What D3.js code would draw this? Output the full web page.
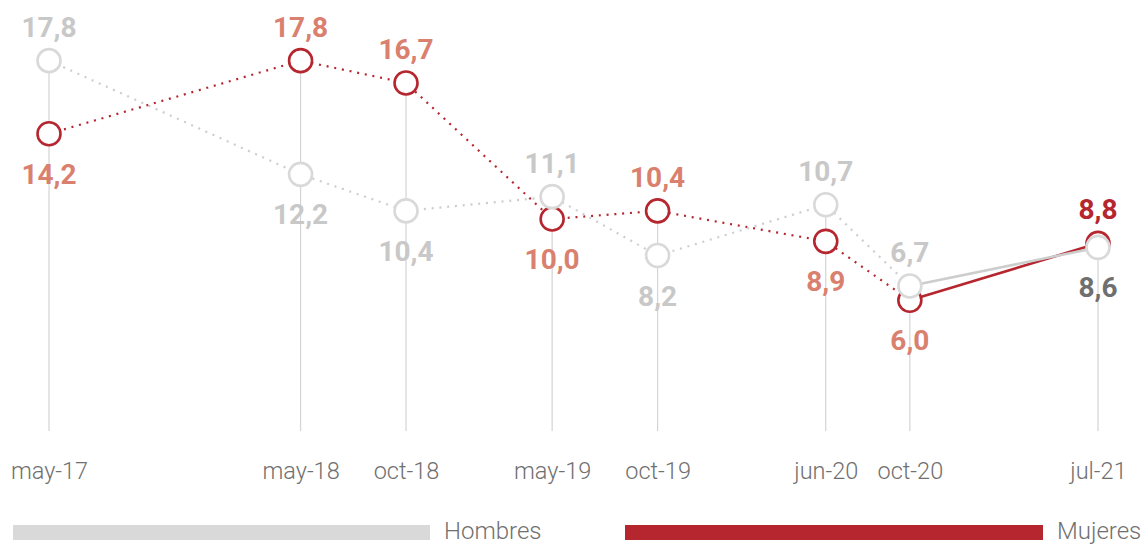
<!DOCTYPE html>
<html><head><meta charset="utf-8">
<script src="https://cdn.jsdelivr.net/npm/d3@7"></script>
<style>
html,body{margin:0;padding:0;background:#fff;}
svg{display:block;}
</style></head>
<body><svg id="chart" width="1147" height="546"></svg>
<script>
const dates = ["2017-05","2018-05","2018-10","2019-05","2019-10","2020-06","2020-10","2021-07"];
const tickLabels = ["may-17","may-18","oct-18","may-19","oct-19","jun-20","oct-20","jul-21"];
const hombres = [17.8,12.2,10.4,11.1,8.2,10.7,6.7,8.6];
const mujeres = [14.2,17.8,16.7,10.0,10.4,8.9,6.0,8.8];
const hombresPos = ["up","down","down","up","down","up","up","down"];
const mujeresPos = ["down","up","up","down","up","down","down","up"];
const seriesNames = ["Hombres","Mujeres"];

const parse = d3.timeParse("%Y-%m");
const dts = dates.map(parse);
const svg = d3.select("#chart");

const x = d3.scaleTime().domain([dts[0], dts[dts.length-1]]).range([49, 1098]);
const y = d3.scaleLinear().domain([0, 20]).range([422, 16]);
const base = 431;

const C = {
  hLine:"#cdcdcd", hCirc:"#d9d9d9", hLab:"#c8c8c8", hLast:"#6f6f6f",
  mLine:"#b5262f", mLab:"#d9806e", mLast:"#b5262f"
};

// vertical guides
svg.append("g").selectAll("line").data(dts).join("line")
  .attr("x1", d=>x(d)).attr("x2", d=>x(d))
  .attr("y1", (d,i)=>y(Math.max(hombres[i], mujeres[i])))
  .attr("y2", base)
  .attr("stroke", "#d4d4d4").attr("stroke-width", 1.2);

function drawLines(vals, color){
  const g = svg.append("g");
  const n = vals.length;
  const line = d3.line().x(d=>x(d[0])).y(d=>y(d[1]));
  const pts = dts.map((d,i)=>[d, vals[i]]);
  g.append("path").attr("d", line(pts.slice(0, n-1)))
    .attr("fill","none").attr("stroke", color).attr("stroke-width", 2.2)
    .attr("stroke-dasharray","2,5.8");
  g.append("path").attr("d", line(pts.slice(n-2)))
    .attr("fill","none").attr("stroke", color).attr("stroke-width", 2.6);
}
drawLines(mujeres, C.mLine);
drawLines(hombres, C.hLine);

function drawCircles(vals, color){
  svg.append("g").selectAll("circle").data(vals).join("circle")
    .attr("cx", (d,i)=>x(dts[i])).attr("cy", d=>y(d)).attr("r", 11.5)
    .attr("fill","#fff").attr("stroke", color).attr("stroke-width", 2.6);
}
drawCircles(mujeres, C.mLine);
drawCircles(hombres, C.hCirc);

const fmt = v => v.toFixed(1).replace(".", ",");
function drawLabels(vals, pos, color, lastColor){
  svg.append("g").selectAll("text").data(vals).join("text")
    .attr("x", (d,i)=>x(dts[i]))
    .attr("y", (d,i)=> pos[i]==="up" ? y(d)-24 : y(d)+50)
    .attr("text-anchor","middle")
    .attr("font-family","'Roboto Slab', Roboto, 'Noto Sans', sans-serif")
    .attr("font-weight", 700).attr("font-size", 28)
    .attr("fill", (d,i)=> i===vals.length-1 ? lastColor : color)
    .text(d=>fmt(d));
}
drawLabels(hombres, hombresPos, C.hLab, C.hLast);
drawLabels(mujeres, mujeresPos, C.mLab, C.mLast);

// x axis
const ax = svg.append("g").attr("transform", `translate(0,${base})`)
  .call(d3.axisBottom(x).tickValues(dts).tickSize(0).tickPadding(0)
    .tickFormat((d,i)=>tickLabels[i]));
ax.select(".domain").remove();
ax.selectAll("text").attr("dy", 0).attr("y", 48)
  .attr("font-family","Roboto, sans-serif").attr("font-weight",300)
  .attr("font-size", 23.5).attr("fill","#707070");

// legend
const legend = [
  {name: seriesNames[0], color:"#d9d9d9", x0:13, x1:430},
  {name: seriesNames[1], color:"#b5262f", x0:625, x1:1043}
];
const lg = svg.append("g");
lg.selectAll("rect").data(legend).join("rect")
  .attr("x", d=>d.x0).attr("y", 525).attr("width", d=>d.x1-d.x0).attr("height", 15)
  .attr("fill", d=>d.color);
lg.selectAll("text").data(legend).join("text")
  .attr("x", d=>d.x1+14).attr("y", 539)
  .attr("font-family","Roboto, sans-serif").attr("font-weight",300)
  .attr("font-size", 24).attr("fill","#707070")
  .text(d=>d.name);
</script></body></html>
